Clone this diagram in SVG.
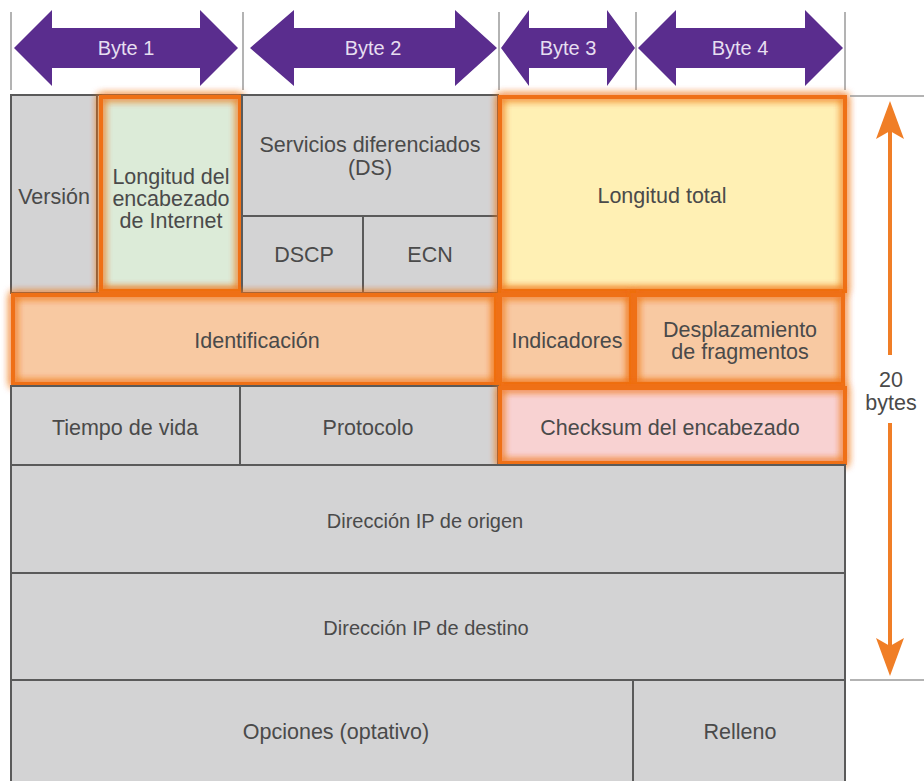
<svg xmlns="http://www.w3.org/2000/svg" width="924" height="781" viewBox="0 0 924 781">
<defs>
<style>
.cell{fill:#d3d3d4;stroke:#5a5a5a;stroke-width:2}
.t{font-family:"Liberation Sans",Arial,sans-serif;font-size:21.5px;fill:#4a4a4a;text-anchor:middle;dominant-baseline:central}
.ts{font-size:20px}
.bt{font-family:"Liberation Sans",Arial,sans-serif;font-size:20px;fill:#e6def0;text-anchor:middle;dominant-baseline:central}
.tick{stroke:#9a9a9a;stroke-width:1.5}
.hl{fill:none;stroke:#ef6f12;stroke-width:4;filter:url(#glow)}
.arrow{fill:#5a2d8e}
.dim{stroke:#f07e26;stroke-width:4;fill:none}
.dimh{fill:#f07e26}
</style>
<filter id="glow" x="-10%" y="-20%" width="120%" height="140%">
<feGaussianBlur in="SourceGraphic" stdDeviation="4" result="b"/>
<feMerge><feMergeNode in="b"/><feMergeNode in="b"/><feMergeNode in="SourceGraphic"/></feMerge>
</filter>
</defs>
<rect width="924" height="781" fill="#ffffff"/>

<g id="byte-ruler">
<line class="tick" x1="11" y1="12" x2="11" y2="90"/>
<line class="tick" x1="243" y1="12" x2="243" y2="90"/>
<line class="tick" x1="499" y1="12" x2="499" y2="90"/>
<line class="tick" x1="636" y1="12" x2="636" y2="90"/>
<line class="tick" x1="845" y1="12" x2="845" y2="90"/>
<g id="byte1"><polygon class="arrow" points="14,48 52,10 52,28 200,28 200,10 238,48 200,86 200,68 52,68 52,86"/><text class="bt" x="126" y="48">Byte 1</text></g>
<g id="byte2"><polygon class="arrow" points="250,48 294,10 294,28 455,28 455,10 497,48 455,86 455,68 294,68 294,86"/><text class="bt" x="373" y="48">Byte 2</text></g>
<g id="byte3"><polygon class="arrow" points="501,48 529,10 529,28 607,28 607,10 635,48 607,86 607,68 529,68 529,86"/><text class="bt" x="568" y="48">Byte 3</text></g>
<g id="byte4"><polygon class="arrow" points="638,48 676,10 676,28 805,28 805,10 843,48 805,86 805,68 676,68 676,86"/><text class="bt" x="740" y="48">Byte 4</text></g>
</g>

<g id="version"><rect class="cell" x="11" y="95" width="86" height="198"/><text class="t" x="54" y="197">Versión</text></g>
<g id="ihl"><rect x="97" y="95" width="145" height="198" fill="#dcebd8" stroke="#5a5a5a" stroke-width="2"/><rect class="hl" x="101" y="97" width="139" height="194"/><text class="t" x="171" y="177">Longitud del</text><text class="t" x="171" y="199">encabezado</text><text class="t" x="171" y="221">de Internet</text></g>
<g id="ds"><rect class="cell" x="242" y="95" width="256" height="121"/><text class="t" x="370" y="145">Servicios diferenciados</text><text class="t" x="370" y="168">(DS)</text></g>
<g id="dscp"><rect class="cell" x="242" y="216" width="121" height="77"/><text class="t" x="304" y="255">DSCP</text></g>
<g id="ecn"><rect class="cell" x="363" y="216" width="135" height="77"/><text class="t" x="430" y="255">ECN</text></g>
<g id="total-length"><rect x="498" y="95" width="347" height="198" fill="#fff0b4"/><rect class="hl" x="500" y="97" width="345" height="194"/><text class="t" x="662" y="196">Longitud total</text></g>

<g id="identification"><rect x="11" y="293" width="487" height="93" fill="#f8c9a2"/><rect class="hl" x="13" y="295" width="483" height="89"/><text class="t" x="257" y="341">Identificación</text></g>
<g id="flags"><rect x="498" y="293" width="135" height="93" fill="#f8c9a2"/><rect class="hl" x="500" y="295" width="131" height="89"/><text class="t" x="567" y="341">Indicadores</text></g>
<g id="fragment-offset"><rect x="633" y="293" width="212" height="93" fill="#f8c9a2"/><rect class="hl" x="635" y="295" width="208" height="89"/><text class="t" x="740" y="330">Desplazamiento</text><text class="t" x="740" y="352">de fragmentos</text></g>

<g id="ttl"><rect class="cell" x="11" y="386" width="229" height="79"/><text class="t" x="125" y="428">Tiempo de vida</text></g>
<g id="protocol"><rect class="cell" x="240" y="386" width="258" height="79"/><text class="t" x="368" y="428">Protocolo</text></g>
<g id="checksum"><rect x="498" y="386" width="347" height="79" fill="#f8d2d2"/><rect class="hl" x="500" y="388" width="345" height="75"/><text class="t" x="670" y="428">Checksum del encabezado</text></g>

<g id="source-ip"><rect class="cell" x="11" y="465" width="834" height="108"/><text class="t ts" x="425" y="521">Dirección IP de origen</text></g>
<g id="dest-ip"><rect class="cell" x="11" y="573" width="834" height="107"/><text class="t ts" x="426" y="628">Dirección IP de destino</text></g>
<g id="options"><rect class="cell" x="11" y="680" width="622" height="110"/><text class="t" x="336" y="732">Opciones (optativo)</text></g>
<g id="padding"><rect class="cell" x="633" y="680" width="212" height="110"/><text class="t" x="740" y="732">Relleno</text></g>

<g id="connectors">
<line x1="850" y1="96" x2="924" y2="96" stroke="#9a9a9a" stroke-width="1.5"/>
<line x1="850" y1="680" x2="924" y2="680" stroke="#9a9a9a" stroke-width="1.5"/>
<line class="dim" x1="890" y1="128" x2="890" y2="355"/>
<line class="dim" x1="890" y1="423" x2="890" y2="648"/>
<polygon class="dimh" points="890,101 904,139 890,131 876,139"/>
<polygon class="dimh" points="890,676 904,638 890,646 876,638"/>
</g>
<g id="size-label"><text class="t" x="891" y="380">20</text><text class="t" x="891" y="403">bytes</text></g>
</svg>
